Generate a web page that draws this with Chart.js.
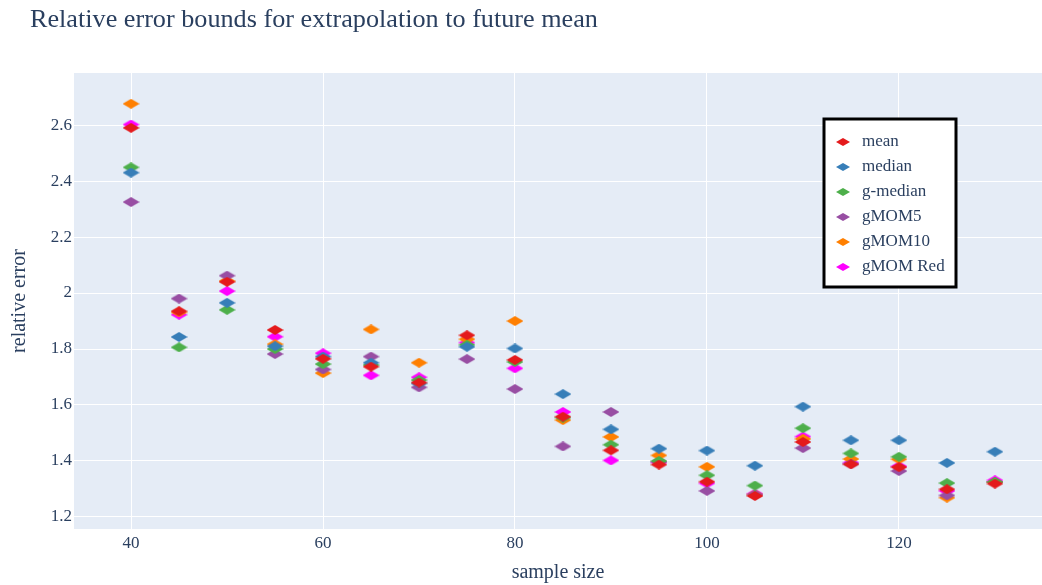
<!DOCTYPE html>
<html>
<head>
<meta charset="utf-8">
<script src="https://cdn.jsdelivr.net/npm/chart.js@4.4.1/dist/chart.umd.min.js"></script>
<style>
  html, body { margin: 0; padding: 0; background: #fff; overflow: hidden; }
  #wrap { width: 1042px; height: 585px; position: relative; }
</style>
</head>
<body>
<div id="wrap"><canvas id="chart"></canvas></div>
<script>
const sampleSizes = [40, 45, 50, 55, 60, 65, 70, 75, 80, 85, 90, 95, 100, 105, 110, 115, 120, 125, 130];

const meanVals    = [2.59, 1.935, 2.04, 1.868, 1.765, 1.737, 1.68, 1.849, 1.761, 1.558, 1.438, 1.387, 1.326, 1.275, 1.468, 1.388, 1.378, 1.299, 1.319];
const medianVals  = [2.43, 1.843, 1.965, 1.81, 1.773, 1.751, 1.677, 1.808, 1.802, 1.639, 1.513, 1.444, 1.437, 1.383, 1.594, 1.474, 1.474, 1.393, 1.433];
const gMedianVals = [2.449, 1.806, 1.94, 1.80, 1.746, 1.743, 1.689, 1.815, 1.754, 1.555, 1.458, 1.40, 1.349, 1.312, 1.517, 1.427, 1.415, 1.321, 1.325];
const gMom5Vals   = [2.325, 1.98, 2.062, 1.782, 1.727, 1.773, 1.663, 1.764, 1.657, 1.452, 1.575, 1.397, 1.293, 1.28, 1.446, 1.39, 1.364, 1.277, 1.325];
const gMom10Vals  = [2.676, 1.931, 2.043, 1.817, 1.714, 1.870, 1.751, 1.835, 1.90, 1.546, 1.486, 1.42, 1.379, 1.28, 1.479, 1.407, 1.406, 1.269, 1.325];
const gMomRedVals = [2.602, 1.9225, 2.007, 1.844, 1.785, 1.706, 1.699, 1.823, 1.731, 1.575, 1.402, 1.395, 1.32, 1.283, 1.487, 1.394, 1.381, 1.293, 1.331];

const xTicks = [40, 60, 80, 100, 120];
const yTicks = [1.2, 1.4, 1.6, 1.8, 2.0, 2.2, 2.4, 2.6];

const series = [
  { label: 'mean',      values: meanVals,    color: '#E41A1C' },
  { label: 'median',    values: medianVals,  color: '#377EB8' },
  { label: 'g-median',  values: gMedianVals, color: '#4DAF4A' },
  { label: 'gMOM5',     values: gMom5Vals,   color: '#984EA3' },
  { label: 'gMOM10',    values: gMom10Vals,  color: '#FF7F00' },
  { label: 'gMOM Red',  values: gMomRedVals, color: '#FF00FF' }
];

const FONT = '"Liberation Serif", "Times New Roman", serif';
const TEXT = '#2a3f5f';

// flattened diamond like the plotly markers
function diamond(color, w, h) {
  const c = document.createElement('canvas');
  c.width = w; c.height = h;
  const g = c.getContext('2d');
  g.fillStyle = color;
  g.beginPath();
  g.moveTo(w / 2, 0);
  g.lineTo(w, h / 2);
  g.lineTo(w / 2, h);
  g.lineTo(0, h / 2);
  g.closePath();
  g.fill();
  return c;
}

const plotBg = {
  id: 'plotBg',
  beforeDraw(chart) {
    const { ctx, chartArea: a } = chart;
    ctx.save();
    ctx.fillStyle = '#E5ECF6';
    ctx.fillRect(a.left, a.top, a.right - a.left, a.bottom - a.top);
    ctx.restore();
  }
};

const titleAndLegend = {
  id: 'titleAndLegend',
  afterDraw(chart) {
    const ctx = chart.ctx;
    ctx.save();
    ctx.fillStyle = TEXT;
    ctx.font = '26.2px ' + FONT;
    ctx.textBaseline = 'middle';
    ctx.textAlign = 'left';
    ctx.fillText('Relative error bounds for extrapolation to future mean', 30, 20);

    // legend box
    const bx = 824, by = 119, bw = 132, bh = 168;
    ctx.fillStyle = '#fff';
    ctx.fillRect(bx, by, bw, bh);
    ctx.lineWidth = 3;
    ctx.strokeStyle = '#000';
    ctx.strokeRect(bx, by, bw, bh);
    ctx.font = '17px ' + FONT;
    series.forEach((s, i) => {
      const y = 142 + i * 25;
      ctx.drawImage(diamond(s.color, 14, 8), 843 - 7, y - 4);
      ctx.fillStyle = TEXT;
      ctx.fillText(s.label, 862, y);
    });
    ctx.restore();
  }
};

new Chart(document.getElementById('chart'), {
  type: 'scatter',
  data: {
    datasets: series.map(s => ({
      label: s.label,
      data: sampleSizes.map((x, i) => ({ x: x, y: s.values[i] })),
      pointStyle: diamond(s.color, 17, 10),
      backgroundColor: s.color,
      borderColor: s.color
    }))
  },
  options: {
    responsive: true,
    maintainAspectRatio: false,
    animation: false,
    layout: { autoPadding: false, padding: { top: 73, right: 0, left: 0, bottom: 0 } },
    plugins: {
      legend: { display: false },
      tooltip: { enabled: false }
    },
    scales: {
      x: {
        type: 'linear',
        min: 34.06,
        max: 134.9,
        afterBuildTicks: axis => { axis.ticks = xTicks.map(v => ({ value: v })); },
        afterFit: axis => { axis.height = 56; },
        grid: { color: '#fff', lineWidth: 1, drawTicks: false },
        border: { display: false },
        ticks: { color: TEXT, font: { family: FONT, size: 17 }, padding: 4 },
        title: { display: true, text: 'sample size', color: TEXT, font: { family: FONT, size: 20 }, padding: { top: 3, bottom: 0 } }
      },
      y: {
        min: 1.157,
        max: 2.786,
        afterBuildTicks: axis => { axis.ticks = yTicks.map(v => ({ value: v })); },
        afterFit: axis => { axis.width = 74; },
        grid: { color: '#fff', lineWidth: 1, drawTicks: false },
        border: { display: false },
        ticks: {
          color: TEXT, font: { family: FONT, size: 17 }, padding: 2,
          callback: v => String(Math.round(v * 10) / 10)
        },
        title: { display: true, text: 'relative error', color: TEXT, font: { family: FONT, size: 20 }, padding: { top: 8, bottom: 0 } }
      }
    }
  },
  plugins: [plotBg, titleAndLegend]
});
</script>
</body>
</html>
